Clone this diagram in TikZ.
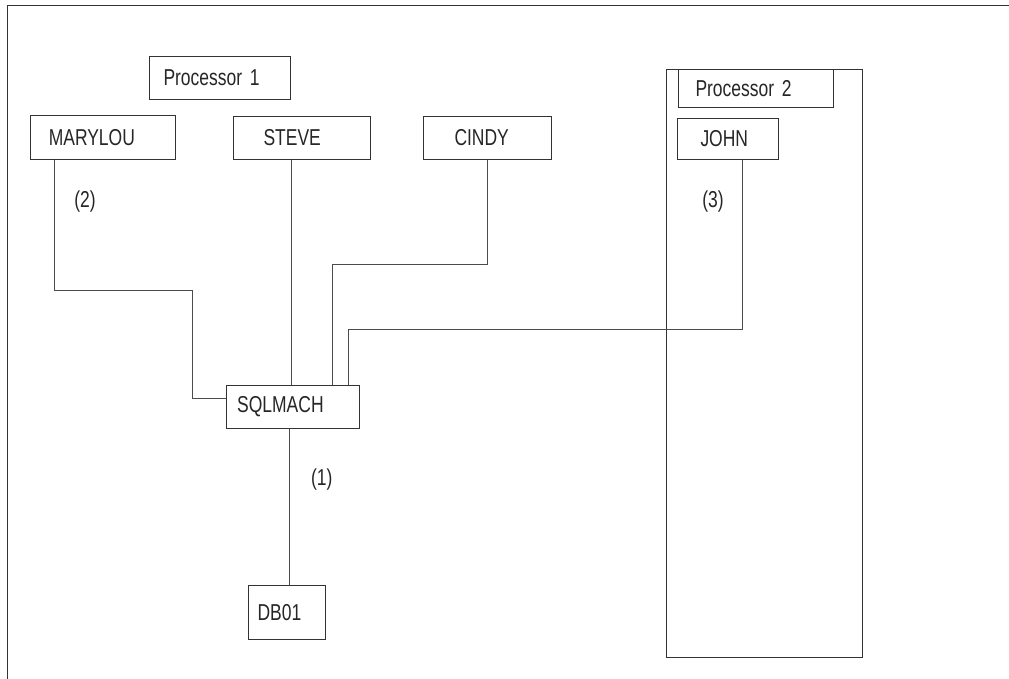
\documentclass[tikz,border=0pt]{standalone}
\usepackage{fontspec}
\setmainfont{Liberation Sans}[FakeStretch=0.76]
\usetikzlibrary{positioning}

\begin{document}
\begin{tikzpicture}[x=1pt,y=-1pt,line width=1pt,
  every node/.style={font=\fontsize{23}{27}\selectfont,text=black!85},
  box/.style={draw=black!80,anchor=north west,align=left,inner ysep=0pt},
  wire/.style={draw=black!70}]

\useasboundingbox (0,0) rectangle (1009,679);

% frame
\draw [black!80] (1012,5.7) -- (7.3,5.7) -- (7.3,682);

% processor 2 area
\node[box,minimum width=196.3pt,minimum height=587.4pt,text width=0pt,inner xsep=0pt] (area) at (665.7,69.3) {};

\node[box,fill=white,minimum height=43pt,text width=113pt,inner xsep=14pt] (proc1) at (149,55.7) {Processor 1};
\node[box,minimum height=44.3pt,text width=109pt,inner xsep=18pt] (marylou) at (30.3,115) {MARYLOU};
\node[box,minimum height=43pt,text width=77.3pt,inner xsep=29.7pt] (steve) at (233.3,116) {STEVE};
\node[box,minimum height=43pt,text width=66.3pt,inner xsep=30.7pt] (cindy) at (423.3,116) {CINDY};
\node[box,fill=white,minimum height=38pt,text width=121pt,inner xsep=16.7pt] (proc2) at (678.3,69.3) {Processor 2};
\node[box,minimum height=40.7pt,text width=54.4pt,inner xsep=23.3pt] (john) at (676.7,118) {JOHN};
\node[box,minimum height=43.6pt,text width=111.3pt,inner xsep=11pt] (sqlmach) at (225.7,384.7) {SQLMACH};
\node[box,minimum height=54pt,text width=59pt,inner xsep=8.7pt] (db01) at (248.3,585) {DB01};

\node (lab2) at (85,201.7) {(2)};
\node (lab1) at (321.7,480) {(1)};
\node (lab3) at (713,201.7) {(3)};

\coordinate (m1) at (192.7,290.7);
\coordinate (c1) at (332.7,264.3);
\coordinate (j1) at (348,329.3);

\draw [wire] ([xshift=24pt]marylou.south west) |- (m1) |- ([yshift=8.5pt]sqlmach.west);
\draw [wire] ([xshift=57.7pt]steve.south west) -- ([xshift=57.7pt]steve.south west |- sqlmach.north);
\draw [wire] ([xshift=63.7pt]cindy.south west) |- (c1) -- (c1 |- sqlmach.north);
\draw [wire] ([xshift=65.3pt]john.south west) |- (j1) -- (j1 |- sqlmach.north);
\draw [wire] ([xshift=63.3pt]sqlmach.south west) -- ([xshift=63.3pt]sqlmach.south west |- db01.north);

\end{tikzpicture}
\end{document}
